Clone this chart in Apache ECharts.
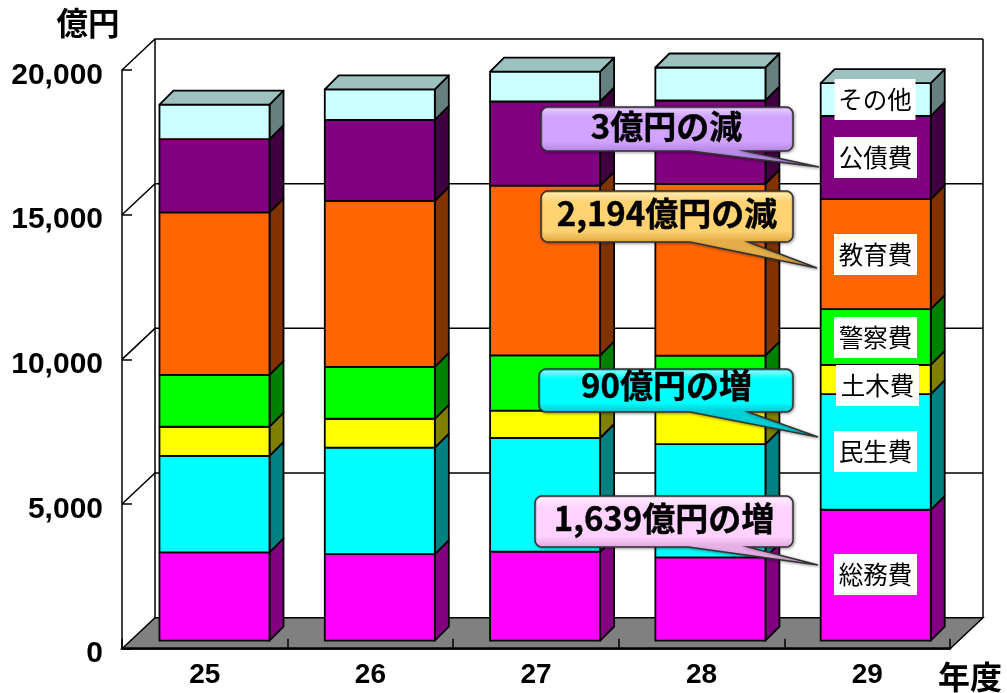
<!DOCTYPE html>
<html><head><meta charset="utf-8">
<style>html,body{margin:0;padding:0;background:#fff}#c{width:1007px;height:693px}</style>
<script src="https://cdn.jsdelivr.net/npm/echarts@6/dist/echarts.min.js"></script>
</head><body><div id="c"></div>
<script>
const years = ['25','26','27','28','29'];
const yTicks = [0,5000,10000,15000,20000];
const somu    = [3050,2995,3075,2880,4525];
const minsei  = [3340,3675,3930,3915,4000];
const doboku  = [1005,1000,945,1150,1010];
const keisatsu= [1795,1795,1910,1910,1925];
const kyoiku  = [5610,5735,5865,5935,3800];
const kosai   = [2535,2800,2910,2880,2880];
const sonota  = [1195,1055,1035,1140,1130];
const names = ['総務費','民生費','土木費','警察費','教育費','公債費','その他'];
const colors = ['#FF00FF','#00FFFF','#FFFF00','#00FF00','#FF6600','#800080','#CCFFFF'];
const sides  = ['#800080','#008080','#808000','#008000','#803300','#400040','#668080'];
const topFace = '#9DC1BE';
const callouts = ['3億円の減','2,194億円の減','90億円の増','1,639億円の増'];

const FONT_B = '"Liberation Sans","Noto Sans CJK JP",sans-serif';
const FONT_J = '"Noto Sans CJK JP",sans-serif';
const DX=33, DY=31;          // 3D depth of the chart box
const BY=-8, BD=14;          // position/depth of bars inside the box
const G={left:122,right:57,top:70,bottom:44.3};

const stacks=[somu,minsei,doboku,keisatsu,kyoiku,kosai,sonota];
const running=years.map(()=>0);
const barSeries=stacks.map((arr,si)=>{
  const data=arr.map((v,i)=>{const b=running[i];running[i]+=v;return [i,b,running[i]];});
  return {type:'custom',name:names[si],coordinateSystem:'cartesian2d',z:5,clip:false,
    encode:{x:0,y:[1,2]},data,
    renderItem(p,api){
      const c0=api.coord([api.value(0),api.value(1)]);
      const c1=api.coord([api.value(0),api.value(2)]);
      const w=api.size([1,0])[0]/1.505;
      const x0=c0[0]-w/2+9.7-0.3*api.value(0),x1=x0+w,yb=c0[1]+BY,yt=c1[1]+BY;
      const ls={stroke:'#000',lineWidth:1.8,lineJoin:'round'};
      const kids=[
        {type:'polygon',shape:{points:[[x1,yb],[x1+BD,yb-BD],[x1+BD,yt-BD],[x1,yt]]},style:{fill:sides[si],...ls}},
        {type:'rect',shape:{x:x0,y:yt,width:w,height:yb-yt},style:{fill:colors[si],...ls}}
      ];
      if(si===stacks.length-1) kids.push({type:'polygon',shape:{points:[[x0,yt],[x0+BD,yt-BD],[x1+BD,yt-BD],[x1,yt]]},style:{fill:topFace,...ls}});
      return {type:'group',children:kids};
    }};
});

const frameSeries={type:'custom',name:'frame',coordinateSystem:'cartesian2d',z:1,clip:false,silent:true,
  encode:{x:0,y:1},data:yTicks.map(t=>[0,t]),
  renderItem(p,api){
    const cs=p.coordSys, t=api.value(1), y=api.coord([0,t])[1];
    const xl=cs.x,xr=cs.x+cs.width;
    const ls={stroke:'#000',lineWidth:1.5,fill:null};
    const kids=[];
    if(t===0){
      kids.push({type:'polygon',z2:0,shape:{points:[[xl,y],[xl+DX,y-DY],[xr+DX,y-DY],[xr,y]]},style:{fill:'#808080',stroke:'#000',lineWidth:1.5}});
      const top=cs.y-DY;
      kids.push({type:'line',shape:{x1:xl+DX,y1:top,x2:xl+DX,y2:y-DY},style:ls});
      kids.push({type:'line',shape:{x1:xr+DX,y1:top,x2:xr+DX,y2:y-DY},style:ls});
    }else{
      kids.push({type:'polyline',shape:{points:[[xl,y],[xl+DX,y-DY],[xr+DX,y-DY]]},style:ls});
    }
    return {type:'group',children:kids};
  }};

function rounded(x,y,w,h,r,tail){
  const pts=[];
  const arc=(cx,cy,a0)=>{for(let k=0;k<=5;k++){const a=a0+k*Math.PI/10;pts.push([cx+r*Math.cos(a),cy+r*Math.sin(a)]);}};
  arc(x+r,y+r,Math.PI);arc(x+w-r,y+r,-Math.PI/2);arc(x+w-r,y+h-r,0);
  if(tail){pts.push([tail[1],y+h],[tail[2],tail[3]],[tail[0],y+h]);}
  arc(x+r,y+h-r,Math.PI/2);
  return pts;
}
const boxes=[
 {t:callouts[0],x:541,y:107,w:252,h:44,tail:[690,745,819,167],cx:666.5,cy:126,c:['#E6CCFF','#D2A4FF','#B98AE6']},
 {t:callouts[1],x:541,y:191,w:252,h:51,tail:[690,748,817,268],cx:667,cy:213,c:['#FFEBB0','#FFD272','#E5AE48']},
 {t:callouts[2],x:539,y:369,w:254,h:43,tail:[690,748,818,437],cx:666.5,cy:385,c:['#8CFFFF','#00FFFF','#00D0D8']},
 {t:callouts[3],x:535,y:496,w:258,h:51,tail:[688,748,818,565],cx:664,cy:518,c:['#FFF0FF','#FFD2FF','#E5B0E5']}
];
const graphics=[];
boxes.forEach(b=>{
  graphics.push({type:'polygon',z:100,shape:{points:rounded(b.x,b.y,b.w,b.h,7,b.tail)},
    style:{fill:b.c[2],stroke:'#333',lineWidth:1.5,shadowBlur:3,shadowColor:'rgba(0,0,0,.35)',shadowOffsetX:1,shadowOffsetY:1}});
  graphics.push({type:'rect',z:101,shape:{x:b.x+1.5,y:b.y+1.5,width:b.w-3,height:b.h-3,r:5},
    style:{fill:{type:'linear',x:0,y:0,x2:0,y2:1,colorStops:[{offset:0,color:b.c[0]},{offset:.2,color:b.c[1]},{offset:.8,color:b.c[1]},{offset:1,color:b.c[2]}]}}});
  graphics.push({type:'text',z:102,style:{text:b.t,x:b.cx,y:b.cy,align:'center',verticalAlign:'middle',
    font:'bold 33px '+FONT_J,fill:'#000',stroke:'#000',lineWidth:.4}});
});
const labelBoxes=[[875,99.5,81,41],[875.5,157.5,83,41],[875.5,254.5,83,41],[875.5,337.5,83,41],[877.5,385.5,83,41],[875.5,451.5,83,41],[875.5,574.5,83,41]];
const labelNames=[names[6],names[5],names[4],names[3],names[2],names[1],names[0]];
labelNames.forEach((n,i)=>{
  const [cx,cy,w,h]=labelBoxes[i];
  graphics.push({type:'rect',z:90,shape:{x:cx-w/2,y:cy-h/2,width:w,height:h},style:{fill:'#fff'}});
  graphics.push({type:'text',z:91,style:{text:n,x:cx,y:cy,align:'center',verticalAlign:'middle',font:'400 24.5px '+FONT_J,fill:'#000'}});
});
graphics.push({type:'text',z:91,style:{text:'億円',x:88,y:23,align:'center',verticalAlign:'middle',font:'bold 31.5px '+FONT_J,fill:'#000'}});
graphics.push({type:'text',z:91,style:{text:'年度',x:970,y:677,align:'center',verticalAlign:'middle',font:'bold 32px '+FONT_J,fill:'#000'}});

const chart=echarts.init(document.getElementById('c'),null,{renderer:'canvas'});
chart.setOption({
  animation:false,backgroundColor:'#fff',
  grid:{left:G.left,right:G.right,top:G.top,bottom:G.bottom},
  xAxis:{type:'category',data:years,boundaryGap:true,z:6,
    axisLine:{show:true,lineStyle:{color:'#000',width:2.5}},
    axisTick:{show:true,inside:true,length:10,lineStyle:{color:'#000',width:1.5}},
    axisLabel:{show:true,interval:0,margin:13,color:'#000',fontSize:28,fontWeight:'bold',fontFamily:FONT_B}},
  yAxis:{type:'value',min:0,max:20000,interval:5000,z:6,
    axisLine:{show:true,lineStyle:{color:'#000',width:1.5}},
    axisTick:{show:true,inside:true,length:10,lineStyle:{color:'#000',width:1.5}},
    splitLine:{show:false},
    axisLabel:{show:true,margin:19,color:'#000',fontSize:30,fontWeight:'bold',fontFamily:FONT_B,verticalAlign:'top',lineHeight:11,
      formatter:v=>v.toLocaleString('en-US')}},
  series:[frameSeries,...barSeries],
  graphic:{elements:graphics}
});
</script></body></html>
